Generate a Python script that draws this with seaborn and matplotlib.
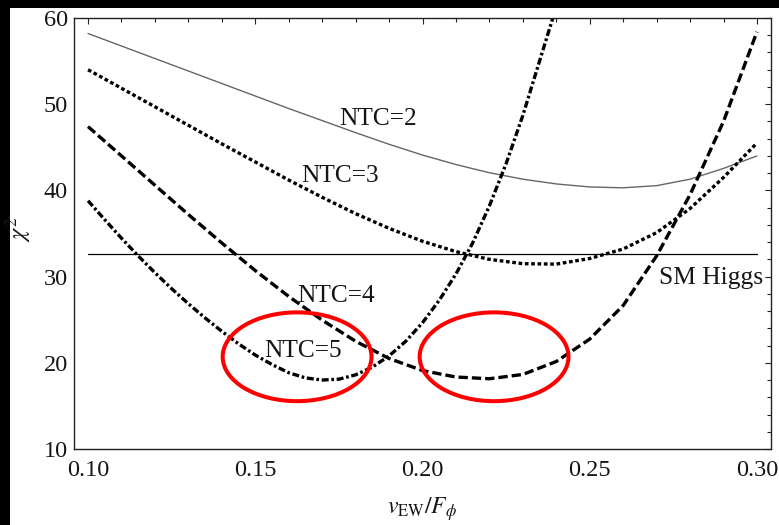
import numpy as np
import pandas as pd
import matplotlib
matplotlib.use("Agg")
import matplotlib.pyplot as plt
import seaborn as sns
from matplotlib.patches import Ellipse, Rectangle
from matplotlib.ticker import MultipleLocator, FormatStrFormatter

# 1. chi^2 curves
ntc2_x = [0.100, 0.110, 0.120, 0.130, 0.140, 0.150, 0.160, 0.170, 0.180, 0.190, 0.200,
          0.210, 0.220, 0.230, 0.240, 0.250, 0.260, 0.270, 0.280, 0.290, 0.300]
ntc2_y = [58.2, 56.75, 55.3, 53.85, 52.4, 50.95, 49.5, 48.1, 46.7, 45.35, 44.1,
          43.0, 42.05, 41.3, 40.75, 40.4, 40.3, 40.55, 41.3, 42.55, 44.0]

ntc3_x = [0.100, 0.110, 0.120, 0.130, 0.140, 0.150, 0.160, 0.170, 0.180, 0.190, 0.200,
          0.210, 0.220, 0.230, 0.240, 0.250, 0.260, 0.270, 0.280, 0.290, 0.300]
ntc3_y = [54.0, 51.85, 49.7, 47.55, 45.4, 43.3, 41.2, 39.2, 37.3, 35.6, 34.1,
          32.9, 32.0, 31.5, 31.45, 32.1, 33.2, 35.1, 37.9, 41.5, 45.5]

ntc4_x = [0.100, 0.110, 0.120, 0.130, 0.140, 0.150, 0.160, 0.170, 0.180, 0.190, 0.200,
          0.210, 0.220, 0.230, 0.240, 0.250, 0.260, 0.270, 0.280, 0.290, 0.300]
ntc4_y = [47.4, 44.0, 40.6, 37.2, 33.9, 30.7, 27.7, 24.95, 22.5, 20.5, 19.1,
          18.35, 18.15, 18.65, 20.15, 22.75, 26.65, 32.4, 39.5, 48.0, 58.4]

ntc5_x = [0.100, 0.105, 0.110, 0.115, 0.120, 0.125, 0.130, 0.135, 0.140, 0.145, 0.150,
          0.155, 0.160, 0.165, 0.170, 0.175, 0.180, 0.185, 0.190, 0.195, 0.200, 0.205,
          0.210, 0.215, 0.220, 0.225, 0.230, 0.235, 0.240]
ntc5_y = [38.8, 36.6, 34.45, 32.4, 30.45, 28.6, 26.85, 25.2, 23.65, 22.2, 20.9,
          19.8, 18.85, 18.25, 18.0, 18.1, 18.6, 19.5, 20.8, 22.5, 24.65, 27.25,
          30.3, 33.9, 38.2, 43.1, 48.7, 55.0, 61.3]

sm_x = [0.10, 0.30]
sm_y = [32.6, 32.6]

# labels on the curves (x centre, baseline y)
label_text = ["NTC=2", "NTC=3", "NTC=4", "NTC=5", "SM Higgs"]
label_x = [0.1866, 0.1753, 0.1742, 0.1642, 0.2863]
label_y = [47.6, 41.0, 27.1, 20.7, 29.1]

# red circles marking the minima
circle_x = [0.1625, 0.2214]
circle_y = [20.7, 20.7]

# 2. style
sns.set_style("white")
plt.rcParams["font.family"] = ["Liberation Serif", "DejaVu Serif"]
plt.rcParams["mathtext.fontset"] = "stix"

fig = plt.figure(figsize=(7.79, 5.25), dpi=100)
fig.patch.set_facecolor("black")
fig.add_artist(Rectangle((10 / 779, 0), 1, (525 - 8) / 525, transform=fig.transFigure,
                         facecolor="white", edgecolor="none", zorder=-10))
ax = fig.add_axes([74 / 779, 1 - 449 / 525, (771 - 74) / 779, (449 - 18) / 525])
ax.set_facecolor("white")

# 3. curves
sns.lineplot(x=ntc2_x, y=ntc2_y, ax=ax, color="#666666", linewidth=1.0)
sns.lineplot(x=ntc3_x, y=ntc3_y, ax=ax, color="black", linewidth=2.4,
             linestyle=(0, (1.1, 0.8)))
sns.lineplot(x=ntc4_x, y=ntc4_y, ax=ax, color="black", linewidth=2.4,
             linestyle=(0, (2.8, 1.2)))
sns.lineplot(x=ntc5_x, y=ntc5_y, ax=ax, color="black", linewidth=2.4,
             linestyle=(0, (2.1, 0.8, 0.8, 0.8)))
sns.lineplot(x=sm_x, y=sm_y, ax=ax, color="black", linewidth=0.9)

for t, lx, ly in zip(label_text, label_x, label_y):
    ax.text(lx, ly, t, ha="center", va="baseline", fontsize=18.3, color="#151515")

for cx, cy in zip(circle_x, circle_y):
    ax.add_patch(Ellipse((cx, cy), width=0.0445, height=10.3, fill=False,
                         edgecolor="#ff0000", linewidth=2.9, zorder=5))

# 4. axes
ax.set_xlim(0.0958, 0.3042)
ax.set_ylim(10, 60)
ax.xaxis.set_major_locator(MultipleLocator(0.05))
ax.xaxis.set_minor_locator(MultipleLocator(0.01))
ax.xaxis.set_major_formatter(FormatStrFormatter("%.2f"))
ax.yaxis.set_major_locator(MultipleLocator(10))
ax.yaxis.set_minor_locator(MultipleLocator(2))

ax.tick_params(which="both", direction="in", top=True, right=True,
               labelsize=17.5, colors="#222222", labelcolor="#151515")
ax.tick_params(which="major", length=4.3, width=0.8)
ax.tick_params(which="minor", length=2.6, width=0.8)
ax.tick_params(axis="x", pad=8)
ax.tick_params(axis="y", pad=4.5)
for s in ax.spines.values():
    s.set_color("#222222")
    s.set_linewidth(1.0)

ax.set_xlabel(r"$v_{\rm EW}/F_\phi$", fontsize=17, color="#151515", va="top")
ax.xaxis.set_label_coords(0.5, -0.108)
ax.set_ylabel(r"$\chi^2$", fontsize=17.5, color="#151515", va="center")
ax.yaxis.set_label_coords(-0.079, 0.51)

fig.savefig("out.png", dpi=100, facecolor=fig.get_facecolor())
